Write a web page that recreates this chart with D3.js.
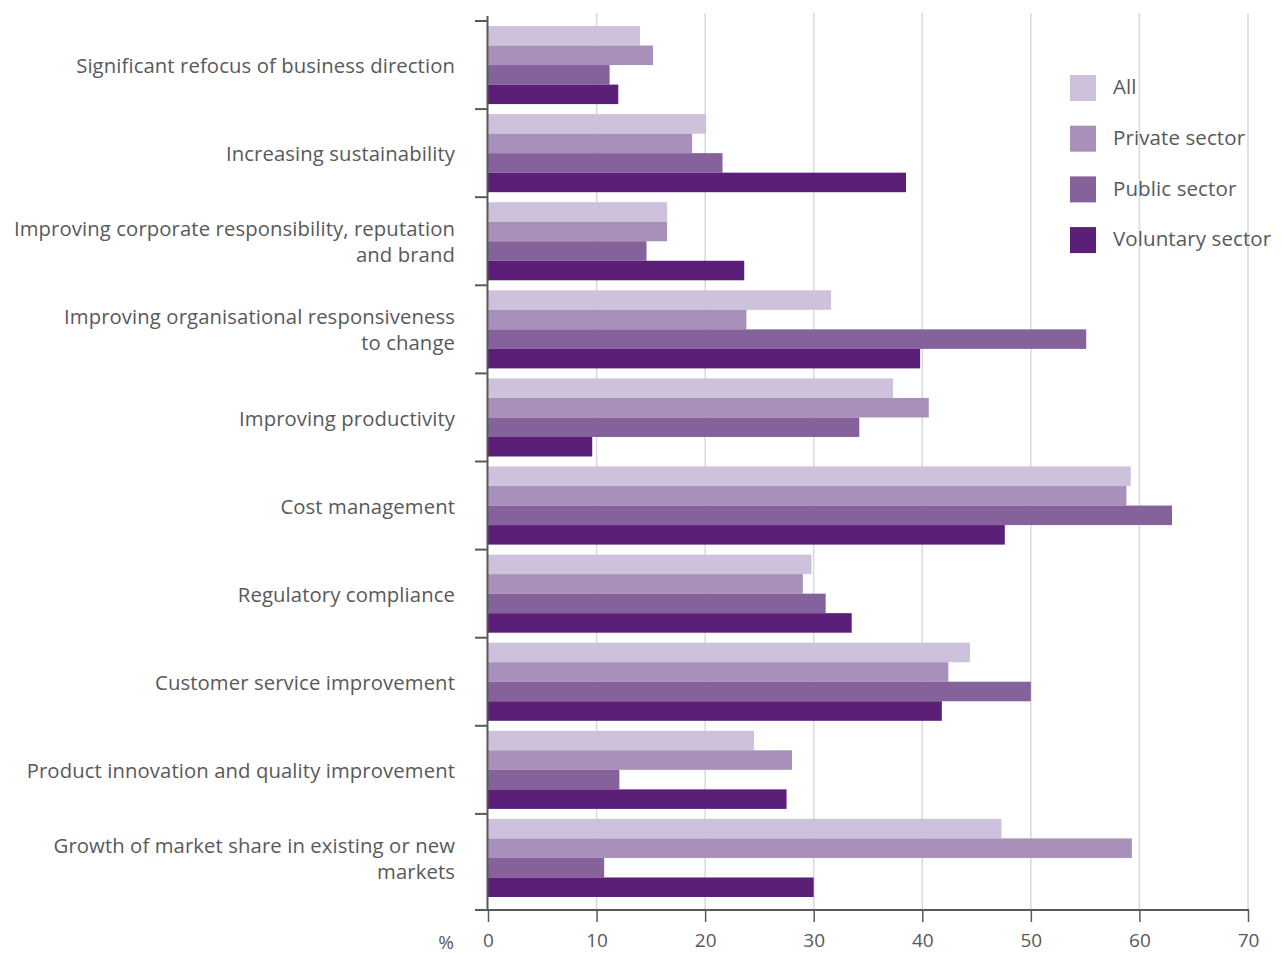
<!DOCTYPE html>
<html>
<head>
<meta charset="utf-8">
<script src="https://cdn.jsdelivr.net/npm/d3@7/dist/d3.min.js"></script>
<style>
  html, body { margin: 0; padding: 0; background: #fff; }
  svg { display: block; font-family: "Open Sans", "DejaVu Sans", sans-serif; }
</style>
</head>
<body>
<svg id="chart" width="1282" height="954"></svg>
<script>
// Business drivers by sector (% of respondents)
const categories = [
  ["Significant refocus of business direction"],
  ["Increasing sustainability"],
  ["Improving corporate responsibility, reputation", "and brand"],
  ["Improving organisational responsiveness", "to change"],
  ["Improving productivity"],
  ["Cost management"],
  ["Regulatory compliance"],
  ["Customer service improvement"],
  ["Product innovation and quality improvement"],
  ["Growth of market share in existing or new", "markets"]
];
const seriesNames = ["All", "Private sector", "Public sector", "Voluntary sector"];
const allValues       = [14.0, 20.1, 16.5, 31.6, 37.3, 59.2, 29.8, 44.4, 24.5, 47.3];
const privateValues   = [15.2, 18.8, 16.5, 23.8, 40.6, 58.8, 29.0, 42.4, 28.0, 59.3];
const publicValues    = [11.2, 21.6, 14.6, 55.1, 34.2, 63.0, 31.1, 50.0, 12.1, 10.7];
const voluntaryValues = [12.0, 38.5, 23.6, 39.8,  9.6, 47.6, 33.5, 41.8, 27.5, 30.0];
const seriesColors = ["#cec1dc", "#a990bb", "#85629c", "#5c1f78"];
const xTicks = [0, 10, 20, 30, 40, 50, 60, 70];

const seriesValues = [allValues, privateValues, publicValues, voluntaryValues];
const catKeys = categories.map(c => c.join(" "));

const svg = d3.select("#chart");
const textColor = "#58595b";
const axisColor = "#58595b";

const x = d3.scaleLinear().domain([0, 70]).range([488, 1248]);
const y = d3.scaleBand().domain(catKeys).range([21, 902]).padding(0);
const ySeries = d3.scaleBand().domain(seriesNames).range([5, y.bandwidth() - 5]).padding(0);

const axisY = 910;

// vertical gridlines
svg.append("g").selectAll("line")
  .data(xTicks.filter(t => t > 0))
  .join("line")
  .attr("x1", d => x(d)).attr("x2", d => x(d))
  .attr("y1", 13).attr("y2", axisY)
  .attr("stroke", "#d9d9d9").attr("stroke-width", 1.5);

// legend (drawn over the gridlines, no background)
const legend = svg.append("g");
seriesNames.forEach((name, i) => {
  const ly = 75 + i * 50.7;
  legend.append("rect")
    .attr("x", 1070).attr("y", ly).attr("width", 26).attr("height", 26)
    .attr("fill", seriesColors[i]);
  legend.append("text")
    .attr("x", 1113).attr("y", ly + 12).attr("dy", "0.35em")
    .attr("font-size", 20.5).attr("letter-spacing", 0.1).attr("fill", textColor)
    .text(name);
});

// bars
const rows = svg.append("g").selectAll("g")
  .data(catKeys)
  .join("g")
  .attr("transform", d => `translate(0,${y(d)})`);

rows.selectAll("rect")
  .data((d, ci) => seriesNames.map((s, si) => ({ s, si, v: seriesValues[si][ci] })))
  .join("rect")
  .attr("x", x(0))
  .attr("y", d => ySeries(d.s))
  .attr("width", d => x(d.v) - x(0))
  .attr("height", ySeries.bandwidth())
  .attr("fill", d => seriesColors[d.si]);

// category labels
const labels = svg.append("g");
categories.forEach((lines, i) => {
  const cy = y(catKeys[i]) + y.bandwidth() / 2 + 1;
  const lh = 26;
  const t = labels.append("text")
    .attr("text-anchor", "end")
    .attr("font-size", 20.3)
    .attr("letter-spacing", 0.1)
    .attr("fill", textColor);
  lines.forEach((ln, j) => {
    t.append("tspan")
      .attr("x", 455)
      .attr("y", cy + (j - (lines.length - 1) / 2) * lh)
      .attr("dy", "0.35em")
      .text(ln);
  });
});

// left axis with ticks at category boundaries
const leftAxis = svg.append("g");
leftAxis.append("line")
  .attr("x1", 487.5).attr("x2", 487.5)
  .attr("y1", 16).attr("y2", axisY)
  .attr("stroke", axisColor).attr("stroke-width", 2);
const boundaries = catKeys.map(k => y(k));
leftAxis.selectAll("line.tick")
  .data(boundaries)
  .join("line")
  .attr("class", "tick")
  .attr("x1", 475).attr("x2", 488)
  .attr("y1", d => d).attr("y2", d => d)
  .attr("stroke", axisColor).attr("stroke-width", 2);

// bottom axis
const xAxis = d3.axisBottom(x).tickValues(xTicks).tickSize(12).tickPadding(12).tickFormat(d3.format("d"));
const gx = svg.append("g").attr("transform", `translate(0,${axisY})`).call(xAxis);
gx.select(".domain").remove();
gx.insert("line", ":first-child")
  .attr("x1", 475).attr("x2", x(70) + 1)
  .attr("y1", 0).attr("y2", 0)
  .attr("stroke", axisColor).attr("stroke-width", 2);
gx.selectAll(".tick line").attr("stroke", axisColor).attr("stroke-width", 1.5);
gx.selectAll(".tick text")
  .attr("font-size", 19).attr("fill", textColor)
  .attr("font-family", "\"Open Sans\", sans-serif");

svg.append("text")
  .attr("x", 454).attr("y", axisY + 32).attr("dy", "0.35em")
  .attr("text-anchor", "end")
  .attr("font-size", 19).attr("fill", textColor)
  .text("%");
</script>
</body>
</html>
